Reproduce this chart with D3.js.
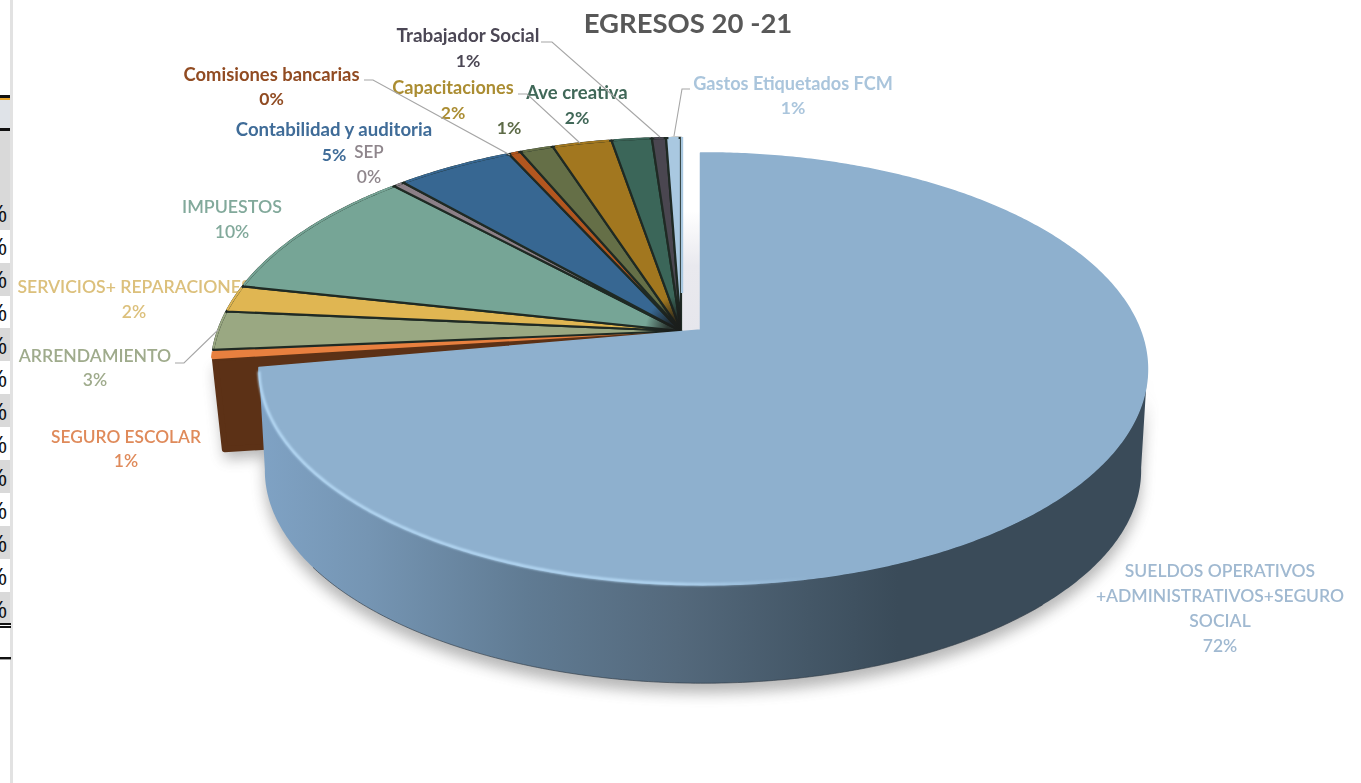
<!DOCTYPE html>
<html>
<head>
<meta charset="utf-8">
<script src="https://cdnjs.cloudflare.com/ajax/libs/d3/7.8.5/d3.min.js"></script>
<style>
html,body{margin:0;padding:0;background:#fff;overflow:hidden}
svg{display:block}
text{font-family:Lato,"Open Sans",sans-serif}
</style>
</head>
<body>
<svg id="c" width="1361" height="783"></svg>
<script>
// ---- data ----
const title = "EGRESOS 20 -21";
const mainName = ["SUELDOS OPERATIVOS", "+ADMINISTRATIVOS+SEGURO", "SOCIAL"];
const mainValue = 72.2;
// clockwise order, following the main slice round to 12 o'clock
const categories = ["SEGURO ESCOLAR","ARRENDAMIENTO","SERVICIOS+ REPARACIONES","IMPUESTOS","SEP","Contabilidad y auditoria","Comisiones bancarias","","Capacitaciones","Ave creativa","Trabajador Social","Gastos Etiquetados FCM"];
const values     = [0.64,2.72,1.88,9.51,0.45,4.72,0.49,1.35,2.4,1.63,0.57,0.6];
const colors     = ["#e8803f","#9aa882","#e0b652","#76a596","#8c7f87","#376792","#b2561f","#656f47","#a2771f","#3b6659","#4a4650","#a9c8e0"];
const textColors = ["#df8a5a","#9fab8c","#dcc07c","#82a99b","#8f868c","#3f6c98","#914c22","#5d6b47","#ab8d33","#406758","#4c4754","#aac5dc"];
// label centre x, name baseline y, percent baseline y, name font size
const labelX     = [126,95,134,232,369,334,271.5,509,453,577,468,793];
const nameY      = [443,362,293,213,158,136,81,null,94,99,42,90];
const pctY       = [467,386,318,238,183,161,105,134,119,124,67,114];
const nameSize   = [17.3,17.6,17.6,17.8,17,18.6,18.4,17.5,18.1,18.5,18.9,18.1];
const leaderLines = [
  [[175,363],[184,363],[218,330]],
  [[364,80],[373,80],[510,155]],
  [[518,94],[527,94],[580,143]],
  [[541,42],[552,42],[660,137]],
  [[690,89],[682,89],[674,136]]
];
const sheetRowsWhite = [[230,263],[296,328],[361,394],[427,460],[493,526],[559,592]];
const sheetPctBaselines = [222,255,288,321,354,387,420,453,486,519,552,585,618];

// ---- scales and projection ----
const svg = d3.select("#c");
const angle = d3.scaleLinear().domain([0,100]).range([0,2*Math.PI]);
function projector(p){
  return t => {
    const X = Math.sin(t), Y = -Math.cos(t), w = 1 - p.k*Y - (p.m||0)*X;
    return [p.ax + p.R*X/w, p.ay + p.s*Y/w];
  };
}
const mainTop    = projector({ax:700.5,ay:330,R:437,s:209,k:0.18,m:0.006});
const mainBottom = projector({ax:703,ay:432,R:431,s:206,k:0.18});
const othersTop  = projector({ax:681,ay:331,R:463,s:225.5,k:0.168});
const line = d3.line();
const arcPts = (f,a0,a1) => {
  const n = Math.max(2,Math.ceil(Math.abs(a1-a0)/0.01));
  return d3.range(n+1).map(i => f(a0+(a1-a0)*i/n));
};

const defs = svg.append("defs");
const blur = (id,sd) => defs.append("filter").attr("id",id)
  .attr("x","-20%").attr("y","-20%").attr("width","140%").attr("height","140%")
  .append("feGaussianBlur").attr("stdDeviation",sd);
blur("shadow",7); blur("soft",0.35); blur("hl",1.0);
const grad = (id,x1,x2,stops) => {
  const g = defs.append("linearGradient").attr("id",id).attr("gradientUnits","userSpaceOnUse")
    .attr("x1",x1).attr("x2",x2).attr("y1",0).attr("y2",0);
  stops.forEach(s => g.append("stop").attr("offset",s[0]).attr("stop-color",s[1]).attr("stop-opacity",s[2]===undefined?1:s[2]));
};
grad("wall",262,1145,[[0,"#7fa2c4"],[0.12,"#7595b3"],[0.3,"#607b93"],[0.47,"#54697c"],[0.62,"#445767"],[0.72,"#3a4b59"],[1,"#3a4b59"]]);
grad("hlGrad",258,810,[[0,"#b8dcf8",1],[0.75,"#b8dcf8",0.95],[1,"#b8dcf8",0]]);
const rad = defs.append("radialGradient").attr("id","apexDark").attr("gradientUnits","userSpaceOnUse")
  .attr("cx",681).attr("cy",331).attr("r",36);
rad.append("stop").attr("offset",0).attr("stop-color","#1a1c1a").attr("stop-opacity",0.95);
rad.append("stop").attr("offset",0.4).attr("stop-color","#1a1c1a").attr("stop-opacity",0.8);
rad.append("stop").attr("offset",1).attr("stop-color","#1a1c1a").attr("stop-opacity",0);
const gapG = defs.append("linearGradient").attr("id","gap").attr("x1",0).attr("x2",0).attr("y1",0).attr("y2",1);
gapG.append("stop").attr("offset",0).attr("stop-color","#fff");
gapG.append("stop").attr("offset",0.45).attr("stop-color","#e9e9ee");
gapG.append("stop").attr("offset",1).attr("stop-color","#e6e6ec");
const edgeG = defs.append("linearGradient").attr("id","leftEdge").attr("x1",0).attr("x2",0).attr("y1",0).attr("y2",1);
edgeG.append("stop").attr("offset",0).attr("stop-color","#6f8aa8").attr("stop-opacity",0);
edgeG.append("stop").attr("offset",0.7).attr("stop-color","#4c5f78");
edgeG.append("stop").attr("offset",1).attr("stop-color","#3f5068");
defs.append("clipPath").attr("id","strip").append("rect").attr("x",0).attr("y",0).attr("width",10).attr("height",783);

// ---- spreadsheet remnants on the left edge ----
const sheet = svg.append("g");
sheet.append("rect").attr("x",10).attr("y",0).attr("width",3).attr("height",783).attr("fill","#e2e2e2");
sheet.append("rect").attr("x",0).attr("y",131).attr("width",10).attr("height",492).attr("fill","#d9d9d9");
sheet.selectAll("rect.w").data(sheetRowsWhite).join("rect").attr("class","w")
  .attr("x",0).attr("width",10).attr("y",d=>d[0]).attr("height",d=>d[1]-d[0]).attr("fill","#fff");
sheet.append("rect").attr("x",0).attr("y",95).attr("width",10).attr("height",3).attr("fill","#111");
sheet.append("rect").attr("x",0).attr("y",98).attr("width",10).attr("height",2).attr("fill","#e7a52c");
sheet.append("rect").attr("x",0).attr("y",100).attr("width",10).attr("height",28).attr("fill","#dfe3e8");
sheet.append("rect").attr("x",0).attr("y",128).attr("width",10).attr("height",3).attr("fill","#111");
sheet.append("rect").attr("x",0).attr("y",623).attr("width",11).attr("height",2).attr("fill","#111");
sheet.append("rect").attr("x",0).attr("y",626).attr("width",11).attr("height",2).attr("fill","#111");
sheet.append("rect").attr("x",0).attr("y",628).attr("width",10).attr("height",29).attr("fill","#fff");
sheet.append("rect").attr("x",0).attr("y",657).attr("width",11).attr("height",2.4).attr("fill","#111");
sheet.append("g").attr("clip-path","url(#strip)").selectAll("text").data(sheetPctBaselines).join("text")
  .attr("x",7).attr("y",d=>d).attr("text-anchor","end")
  .style("font-family","'Liberation Sans',sans-serif").style("font-size","23px").attr("fill","#111").text("%");

// ---- pie geometry from the values ----
let cum = 100;
const slices = categories.map((c,i)=>({i})).reverse().map(d => {
  const a1 = cum; cum -= values[d.i];
  return {i:d.i, a0:angle(cum), a1:angle(a1)};
}).reverse();
const apexPt = [681,331];
const sliceEnd = d3.min(slices,d=>d.a0);

// ---- labels (under the pie, which clips the end of SERVICIOS) ----
const labels = svg.append("g").attr("filter","url(#soft)");
const fw = i => (i<=4) ? 600 : 700;
categories.forEach((c,i)=>{
  if(c) labels.append("text").attr("x",labelX[i]).attr("y",nameY[i]).attr("text-anchor","middle")
    .attr("fill",textColors[i]).style("font-size",nameSize[i]+"px").style("font-weight",fw(i)).text(c);
  labels.append("text").attr("x",labelX[i]).attr("y",pctY[i]).attr("text-anchor","middle")
    .attr("fill",textColors[i]).style("font-size","17.5px").style("font-weight",fw(i)).text(d3.format(".0f")(values[i])+"%");
});
mainName.forEach((t,i)=> labels.append("text").attr("x",1220).attr("y",577+25*i).attr("text-anchor","middle")
  .attr("fill","#a0b9d1").style("font-size","17.5px").style("font-weight",600).text(t));
labels.append("text").attr("x",1220).attr("y",652).attr("text-anchor","middle")
  .attr("fill","#a0b9d1").style("font-size","17.5px").style("font-weight",600).text(d3.format(".0f")(mainValue)+"%");
labels.append("text").attr("x",688).attr("y",33).attr("text-anchor","middle")
  .attr("fill","#595959").style("font-size","27.5px").style("font-weight",700).text(title);

// ---- shadows ----
const a0m = angle(0), a1m = angle(mainValue);
const wallStart = angle(27.7);   // right-hand silhouette of the rim
const wallTop = arcPts(mainTop, wallStart, a1m);
const wallBot = arcPts(mainBottom, a1m, wallStart);
const segEnd = othersTop(sliceEnd);
const brownApex = [apexPt[0]-6, apexPt[1]];
const brownFace = [brownApex, segEnd, [segEnd[0]+10, segEnd[1]+91], [brownApex[0], brownApex[1]+91]];
const sh = svg.append("g").attr("filter","url(#shadow)").attr("opacity",0.42);
sh.append("path").attr("d",line(wallTop.concat(wallBot))+"Z").attr("transform","translate(0,10)").attr("fill","#555");
sh.append("path").attr("d",line(brownFace)+"Z").attr("transform","translate(3,9)").attr("fill","#555");

// ---- gap between the main slice and the rest ----
const mt0 = mainTop(a0m);
svg.append("rect").attr("x",apexPt[0]).attr("y",mt0[1]+58).attr("width",mt0[0]-apexPt[0]).attr("height",330-mt0[1]-58+3).attr("fill","url(#gap)");

// ---- cut face of the last small slice ----
svg.append("path").attr("d",line(brownFace)+"Z").attr("fill","#5c3116").attr("stroke","#5c3116")
  .attr("stroke-width",6).attr("stroke-linejoin","round").attr("transform","translate(3,-1)");

// ---- small slices, top faces ----
const topPath = d => line([apexPt].concat(arcPts(othersTop,d.a0,d.a1)))+"Z";
svg.append("g").selectAll("path").data(slices).join("path")
  .attr("d",topPath).attr("fill",d=>colors[d.i]).attr("stroke","#1f2a24").attr("stroke-width",d=>d.i===0?0:2.2)
  .attr("stroke-linejoin","round");
// outer rim painted again so the dark divider only runs along the radii
svg.append("g").selectAll("path").data(slices).join("path")
  .attr("d",d=>line(arcPts(othersTop,d.a0+0.006,d.a1-0.006)))
  .attr("fill","none").attr("stroke",d=>colors[d.i]).attr("stroke-width",2);
// the last slice has no dark divider on its open right-hand side
const lastRim = othersTop(angle(100));
svg.append("line").attr("x1",lastRim[0]+1).attr("x2",lastRim[0]+1).attr("y1",lastRim[1]-1).attr("y2",apexPt[1]-38)
  .attr("stroke",colors[colors.length-1]).attr("stroke-width",2.4);
svg.append("path").attr("d",line([apexPt].concat(arcPts(othersTop,sliceEnd,angle(100))))+"Z").attr("fill","url(#apexDark)");

// ---- main slice ----
svg.append("path").attr("d",line(wallTop.concat(wallBot))+"Z").attr("fill","url(#wall)");
const mainPts = [[mt0[0],330]].concat(arcPts(mainTop,a0m,a1m));
svg.append("path").attr("d",line(mainPts)+"Z").attr("fill","#8eb0ce").attr("stroke","#8eb0ce")
  .attr("stroke-width",1.5).attr("stroke-linejoin","round");
svg.append("path").attr("d",line(arcPts(mainTop,a1m-0.02,angle(45)).map(p=>[p[0],p[1]-0.5]))).attr("fill","none")
  .attr("stroke","url(#hlGrad)").attr("stroke-width",2.6).attr("filter","url(#hl)");
svg.append("line").attr("x1",mt0[0]).attr("x2",mt0[0]).attr("y1",mt0[1]+30).attr("y2",330)
  .attr("stroke","url(#leftEdge)").attr("stroke-width",1.2);
svg.append("path").attr("d",line(arcPts(mainBottom,angle(38),angle(65))))
  .attr("fill","none").attr("stroke","#2f3a45").attr("stroke-width",0.9).attr("opacity",0.7);

// ---- leader lines ----
svg.append("g").selectAll("path").data(leaderLines).join("path").attr("d",d=>line(d))
  .attr("fill","none").attr("stroke","#a6a6a6").attr("stroke-width",1.1);
</script>
</body>
</html>
